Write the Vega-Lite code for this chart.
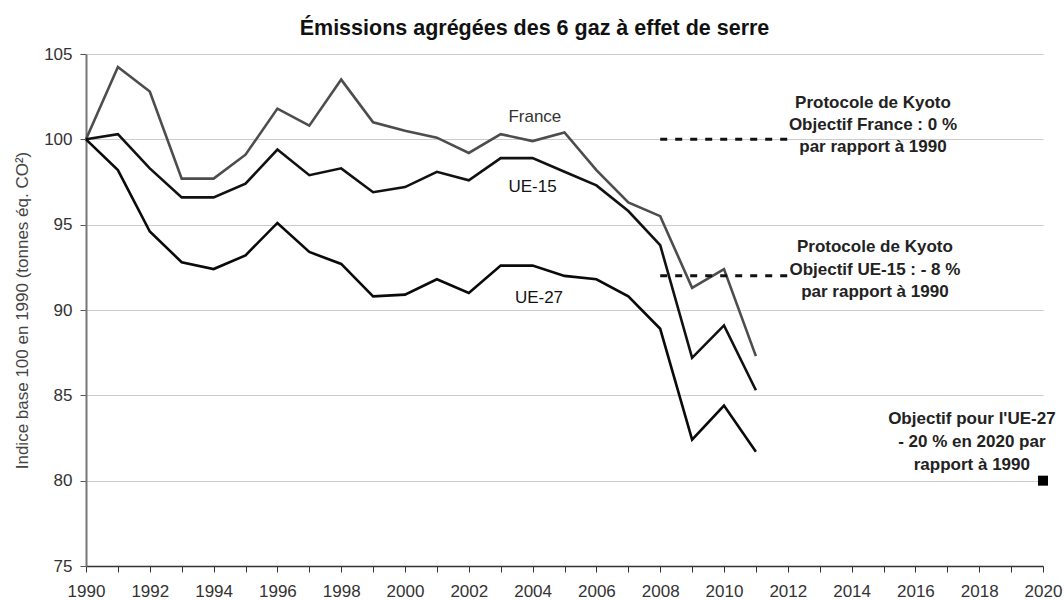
{
  "$schema": "https://vega.github.io/schema/vega-lite/v6.json",
  "width": 957,
  "height": 512,
  "autosize": "none",
  "padding": {"left": 86, "top": 54, "right": 21, "bottom": 34},
  "background": "white",
  "title": {"text": "Émissions agrégées des 6 gaz à effet de serre", "font": "Liberation Sans", "fontSize": 21.5, "fontWeight": "bold", "color": "#111", "offset": 6, "anchor": "middle", "dx": -30},
  "config": {"view": {"stroke": null}, "font": "Liberation Sans"},
  "datasets": {
    "series": [
      {"year": 1990, "serie": "France", "v": 100}, {"year": 1991, "serie": "France", "v": 104.24}, {"year": 1992, "serie": "France", "v": 102.8}, {"year": 1993, "serie": "France", "v": 97.7}, {"year": 1994, "serie": "France", "v": 97.7}, {"year": 1995, "serie": "France", "v": 99.1}, {"year": 1996, "serie": "France", "v": 101.8}, {"year": 1997, "serie": "France", "v": 100.8}, {"year": 1998, "serie": "France", "v": 103.5}, {"year": 1999, "serie": "France", "v": 101.0}, {"year": 2000, "serie": "France", "v": 100.5}, {"year": 2001, "serie": "France", "v": 100.1}, {"year": 2002, "serie": "France", "v": 99.2}, {"year": 2003, "serie": "France", "v": 100.3}, {"year": 2004, "serie": "France", "v": 99.9}, {"year": 2005, "serie": "France", "v": 100.4}, {"year": 2006, "serie": "France", "v": 98.2}, {"year": 2007, "serie": "France", "v": 96.3}, {"year": 2008, "serie": "France", "v": 95.5}, {"year": 2009, "serie": "France", "v": 91.3}, {"year": 2010, "serie": "France", "v": 92.4}, {"year": 2011, "serie": "France", "v": 87.3},
      {"year": 1990, "serie": "UE-15", "v": 100}, {"year": 1991, "serie": "UE-15", "v": 100.3}, {"year": 1992, "serie": "UE-15", "v": 98.3}, {"year": 1993, "serie": "UE-15", "v": 96.6}, {"year": 1994, "serie": "UE-15", "v": 96.6}, {"year": 1995, "serie": "UE-15", "v": 97.4}, {"year": 1996, "serie": "UE-15", "v": 99.4}, {"year": 1997, "serie": "UE-15", "v": 97.9}, {"year": 1998, "serie": "UE-15", "v": 98.3}, {"year": 1999, "serie": "UE-15", "v": 96.9}, {"year": 2000, "serie": "UE-15", "v": 97.2}, {"year": 2001, "serie": "UE-15", "v": 98.1}, {"year": 2002, "serie": "UE-15", "v": 97.6}, {"year": 2003, "serie": "UE-15", "v": 98.9}, {"year": 2004, "serie": "UE-15", "v": 98.9}, {"year": 2005, "serie": "UE-15", "v": 98.1}, {"year": 2006, "serie": "UE-15", "v": 97.3}, {"year": 2007, "serie": "UE-15", "v": 95.8}, {"year": 2008, "serie": "UE-15", "v": 93.8}, {"year": 2009, "serie": "UE-15", "v": 87.2}, {"year": 2010, "serie": "UE-15", "v": 89.1}, {"year": 2011, "serie": "UE-15", "v": 85.3},
      {"year": 1990, "serie": "UE-27", "v": 100}, {"year": 1991, "serie": "UE-27", "v": 98.2}, {"year": 1992, "serie": "UE-27", "v": 94.6}, {"year": 1993, "serie": "UE-27", "v": 92.8}, {"year": 1994, "serie": "UE-27", "v": 92.4}, {"year": 1995, "serie": "UE-27", "v": 93.2}, {"year": 1996, "serie": "UE-27", "v": 95.1}, {"year": 1997, "serie": "UE-27", "v": 93.4}, {"year": 1998, "serie": "UE-27", "v": 92.7}, {"year": 1999, "serie": "UE-27", "v": 90.8}, {"year": 2000, "serie": "UE-27", "v": 90.9}, {"year": 2001, "serie": "UE-27", "v": 91.8}, {"year": 2002, "serie": "UE-27", "v": 91.0}, {"year": 2003, "serie": "UE-27", "v": 92.6}, {"year": 2004, "serie": "UE-27", "v": 92.6}, {"year": 2005, "serie": "UE-27", "v": 92.0}, {"year": 2006, "serie": "UE-27", "v": 91.8}, {"year": 2007, "serie": "UE-27", "v": 90.8}, {"year": 2008, "serie": "UE-27", "v": 88.9}, {"year": 2009, "serie": "UE-27", "v": 82.4}, {"year": 2010, "serie": "UE-27", "v": 84.4}, {"year": 2011, "serie": "UE-27", "v": 81.7}
    ],
    "targets": [
      {"year": 2008, "v": 100, "cible": "France"}, {"year": 2012, "v": 100, "cible": "France"},
      {"year": 2008, "v": 92, "cible": "UE-15"}, {"year": 2012, "v": 92, "cible": "UE-15"}
    ],
    "labels": [
      {"year": 2004.07, "v": 101.3, "t": "France", "c": "#333"},
      {"year": 2004.0, "v": 97.2, "t": "UE-15", "c": "#111"},
      {"year": 2004.2, "v": 90.7, "t": "UE-27", "c": "#111"}
    ],
    "notes": [
      {"year": 2014.67, "v": 102.1, "t": "Protocole de Kyoto"},
      {"year": 2014.67, "v": 100.85, "t": "Objectif France : 0 %"},
      {"year": 2014.67, "v": 99.56, "t": "par rapport à 1990"},
      {"year": 2014.73, "v": 93.71, "t": "Protocole de Kyoto"},
      {"year": 2014.73, "v": 92.37, "t": "Objectif UE-15 : -  8 %"},
      {"year": 2014.73, "v": 91.08, "t": "par rapport à 1990"},
      {"year": 2017.77, "v": 83.6, "t": "Objectif pour l'UE-27"},
      {"year": 2017.77, "v": 82.25, "t": " -  20 % en 2020 par"},
      {"year": 2017.77, "v": 80.9, "t": "rapport à 1990"}
    ],
    "point": [{"year": 2020, "v": 80}]
  },
  "encoding": {
    "x": {"field": "year", "type": "quantitative", "scale": {"domain": [1990, 2020], "nice": false, "zero": false},
      "axis": {"title": null, "values": [1990,1991,1992,1993,1994,1995,1996,1997,1998,1999,2000,2001,2002,2003,2004,2005,2006,2007,2008,2009,2010,2011,2012,2013,2014,2015,2016,2017,2018,2019,2020],
        "labelExpr": "datum.value % 2 == 0 ? datum.value + '' : ''", "grid": false, "domainColor": "#333", "domainWidth": 1.5, "tickColor": "#333", "tickSize": 6, "labelFontSize": 17, "labelColor": "#333", "labelFont": "Liberation Sans", "labelPadding": 11, "labelFlush": false}},
    "y": {"field": "v", "type": "quantitative", "scale": {"domain": [75, 105], "nice": false, "zero": false},
      "axis": {"title": "Indice base 100 en 1990 (tonnes éq. CO²)", "titleFontSize": 17, "titleFontWeight": "normal", "titleColor": "#444", "titlePadding": 12, "values": [75, 80, 85, 90, 95, 100, 105], "gridColor": "#cccccc", "gridWidth": 1.2, "domainColor": "#777", "domainWidth": 2, "tickColor": "#555", "tickSize": 6, "labelFontSize": 17, "labelColor": "#333", "labelPadding": 8}}
  },
  "layer": [
    {"data": {"name": "series"}, "mark": {"type": "line", "strokeWidth": 2.6, "strokeJoin": "miter"},
      "encoding": {"detail": {"field": "serie"}, "color": {"field": "serie", "type": "nominal", "scale": {"domain": ["France", "UE-15", "UE-27"], "range": ["#4d4d4d", "#111111", "#0a0a0a"]}, "legend": null}}},
    {"data": {"name": "targets"}, "mark": {"type": "line", "strokeWidth": 3, "strokeDash": [7, 8], "color": "#111"},
      "encoding": {"detail": {"field": "cible"}}},
    {"data": {"name": "point"}, "mark": {"type": "square", "size": 100, "color": "#000", "opacity": 1, "filled": true}, "encoding": {}},
    {"data": {"name": "labels"}, "mark": {"type": "text", "fontSize": 17, "font": "Liberation Sans", "align": "center", "baseline": "middle"},
      "encoding": {"text": {"field": "t"}, "color": {"field": "c", "type": "nominal", "scale": null}}},
    {"data": {"name": "notes"}, "mark": {"type": "text", "fontSize": 17, "fontWeight": "bold", "font": "Liberation Sans", "align": "center", "baseline": "middle", "color": "#222"},
      "encoding": {"text": {"field": "t"}}}
  ]
}
